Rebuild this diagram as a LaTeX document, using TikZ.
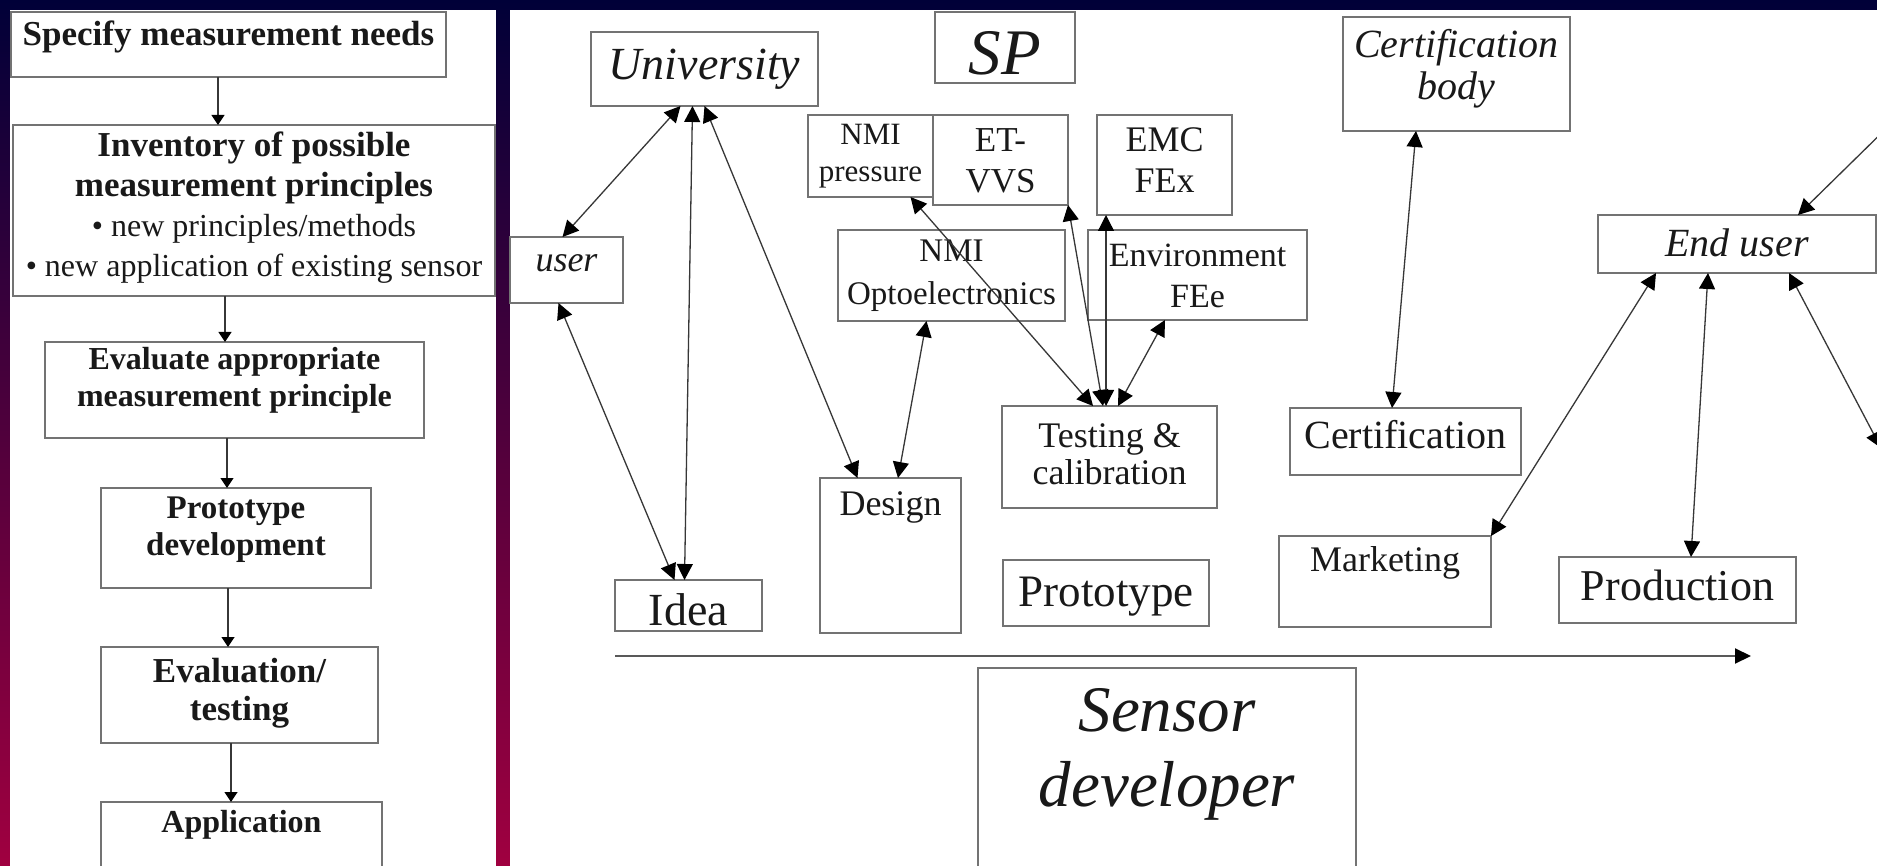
\documentclass[tikz,border=0pt]{standalone}
\usepackage{fontspec}
\setmainfont{Liberation Serif}
\usetikzlibrary{arrows.meta}

\definecolor{slidetop}{RGB}{0,0,56}
\definecolor{slidebot}{RGB}{160,0,64}
\definecolor{frameline}{RGB}{115,115,115}
\definecolor{linkline}{RGB}{55,55,55}

\newcommand{\fsz}[2]{\fontsize{#1}{#2}\selectfont}
\newcommand{\lines}[1]{\begin{tabular}[t]{@{}c@{}}#1\end{tabular}}

\begin{document}
\begin{tikzpicture}[x=1pt,y=-1pt,
  box/.style={draw=frameline, line width=1.8pt, fill=white, inner sep=0pt,
    outer sep=0pt, anchor=north west, text=black!90},
  link/.style={draw=linkline, line width=1.3pt,
    {Triangle[length=16pt,width=16pt,color=black]}-{Triangle[length=16pt,width=16pt,color=black]}},
  flow/.style={draw=linkline, line width=1.3pt, -{Triangle[length=10pt,width=13pt,color=black]}},
  timeline/.style={draw=black!65, line width=2pt, -{Triangle[length=16pt,width=15pt,color=black]}},
]
\useasboundingbox (0,0) rectangle (1877,866);
\clip (0,0) rectangle (1877,866);

% slide background and the two white panels
\shade[top color=slidetop, bottom color=slidebot] (0,0) rectangle (1877,866);
\fill[white] (10,10) rectangle (496,870);
\fill[white] (510,10) rectangle (1880,870);

% ---------- left panel: development steps ----------
\node[box, minimum width=435pt, text height=34pt, text depth=31pt,
  font=\fsz{35}{40}\bfseries] (spec) at (11,12) {Specify measurement needs};
\node[box, minimum width=482pt, text height=32pt, text depth=139pt,
  font=\fsz{35}{40}\bfseries] (inv) at (13,125)
  {\lines{Inventory of possible\\ measurement principles\\
   {\normalfont\fsz{32}{40}• new principles/methods}\\
   {\normalfont\fsz{32}{40}• new application of existing sensor}}};
\node[box, minimum width=379pt, text height=28pt, text depth=68pt,
  font=\fsz{32}{37}\bfseries] (eval) at (45,342)
  {\lines{Evaluate appropriate\\ measurement principle}};
\node[box, minimum width=270pt, text height=30pt, text depth=70pt,
  font=\fsz{33}{37}\bfseries] (pdev) at (101,488)
  {\lines{Prototype\\ development}};
\node[box, minimum width=277pt, text height=35pt, text depth=61pt,
  font=\fsz{35}{38}\bfseries] (etest) at (101,647)
  {\lines{Evaluation/\\ testing}};
\node[box, minimum width=281pt, text height=30pt, text depth=48pt,
  font=\fsz{32}{37}\bfseries] (app) at (101,802) {Application};

\draw[flow] ([xshift=-10.5pt]spec.south) -- ([xshift=-36pt]inv.north);
\draw[flow] ([xshift=-29pt]inv.south) -- ([xshift=-9.5pt]eval.north);
\draw[flow] ([xshift=-7.5pt]eval.south) -- ([xshift=-9pt]pdev.north);
\draw[flow] ([xshift=-8pt]pdev.south) -- ([xshift=-11.5pt]etest.north);
\draw[flow] ([xshift=-8.5pt]etest.south) -- ([xshift=-10.5pt]app.north);

% ---------- right panel: actors and phases ----------
\node[box, minimum width=227pt, text height=48pt, text depth=26pt,
  font=\fsz{46}{50}\itshape] (univ) at (591,32) {University};
\node[box, minimum width=140pt, text height=63pt, text depth=8pt,
  font=\fsz{65}{70}\itshape] (sp) at (935,12) {SP};
\node[box, minimum width=125pt, text height=30pt, text depth=52pt,
  font=\fsz{31}{37}] (nmip) at (808,115) {\lines{NMI\\ pressure}};
\node[box, minimum width=135pt, text height=37pt, text depth=53pt,
  font=\fsz{35}{41}] (etvvs) at (933,115) {\lines{ET-\\ VVS}};
\node[box, minimum width=135pt, text height=37pt, text depth=63pt,
  font=\fsz{36}{41}] (emc) at (1097,115) {\lines{EMC\\ FEx}};
\node[box, minimum width=227pt, text height=41pt, text depth=73pt,
  font=\fsz{40}{42}\itshape] (certbody) at (1343,17) {\lines{Certification\\ body}};
\node[box, minimum width=113pt, text height=35pt, text depth=31pt,
  font=\fsz{36}{40}\itshape] (user) at (510,237) {user};
\node[box, minimum width=227pt, text height=32pt, text depth=59pt,
  font=\fsz{33}{43}] (nmio) at (838,230) {\lines{NMI\\ Optoelectronics}};
\node[box, minimum width=219pt, text height=37pt, text depth=53pt,
  font=\fsz{34}{41}] (env) at (1088,230) {\lines{Environment\\ FEe}};
\node[box, minimum width=278pt, text height=42pt, text depth=16pt,
  font=\fsz{40}{44}\itshape] (enduser) at (1598,215) {End user};
\node[box, minimum width=215pt, text height=41pt, text depth=61pt,
  font=\fsz{36}{37}] (testcal) at (1002,406) {\lines{Testing \&\\ calibration}};
\node[box, minimum width=231pt, text height=40pt, text depth=27pt,
  font=\fsz{40}{44}] (cert) at (1290,408) {Certification};
\node[box, minimum width=141pt, text height=37pt, text depth=118pt,
  font=\fsz{36}{40}] (design) at (820,478) {Design};
\node[box, minimum width=147pt, text height=45pt, text depth=6pt,
  font=\fsz{46}{50}] (idea) at (615,580) {Idea};
\node[box, minimum width=206pt, text height=46pt, text depth=20pt,
  font=\fsz{45}{50}] (proto) at (1003,560) {Prototype};
\node[box, minimum width=212pt, text height=35pt, text depth=56pt,
  font=\fsz{36}{40}] (mkt) at (1279,536) {Marketing};
\node[box, minimum width=237pt, text height=43pt, text depth=23pt,
  font=\fsz{44}{48}] (prod) at (1559,557) {Production};
\node[box, minimum width=378pt, text height=63pt, text depth=149pt,
  font=\fsz{65}{75}\itshape] (sensdev) at (978,668) {\lines{Sensor\\ developer}};

% free ends of connectors that leave the panel, and the time axis
\coordinate (offR) at (1881,448);
\coordinate (offT) at (1900,115);
\coordinate (tl0) at (615,656);
\coordinate (tl1) at (1751,656);

% interactions
\draw[link] ([xshift=-24pt]univ.south) -- ([xshift=-4pt]user.north);
\draw[link] ([xshift=-12pt]univ.south) -- ([xshift=-4pt]idea.north);
\draw[link] (univ.south) -- ([xshift=-33pt]design.north);
\draw[link] ([xshift=-8pt]user.south) -- ([xshift=-14pt]idea.north);
\draw[link] ([xshift=-25pt]nmio.south) -- ([xshift=7.5pt]design.north);
\draw[link] ([xshift=-16.5pt]testcal.north) -- ([xshift=40pt]nmip.south);
\draw[link] ([xshift=-6.5pt]testcal.north) -- (etvvs.south east);
\draw[link] ([xshift=-3.5pt]testcal.north) -- ([xshift=9pt]emc.south west);
\draw[link] ([xshift=8.5pt]testcal.north) -- ([xshift=-32.5pt]env.south);
\draw[link] ([xshift=-40.5pt]certbody.south) -- ([xshift=-13.5pt]cert.north);
\draw[link] ([xshift=-81pt]enduser.south) -- (mkt.north east);
\draw[link] ([xshift=-29pt]enduser.south) -- ([xshift=13.5pt]prod.north);
\draw[link] ([xshift=52pt]enduser.south) -- (offR);
\draw[link] (offT) -- ([xshift=61pt]enduser.north);

\draw[timeline] (tl0) -- (tl1);
\end{tikzpicture}
\end{document}
